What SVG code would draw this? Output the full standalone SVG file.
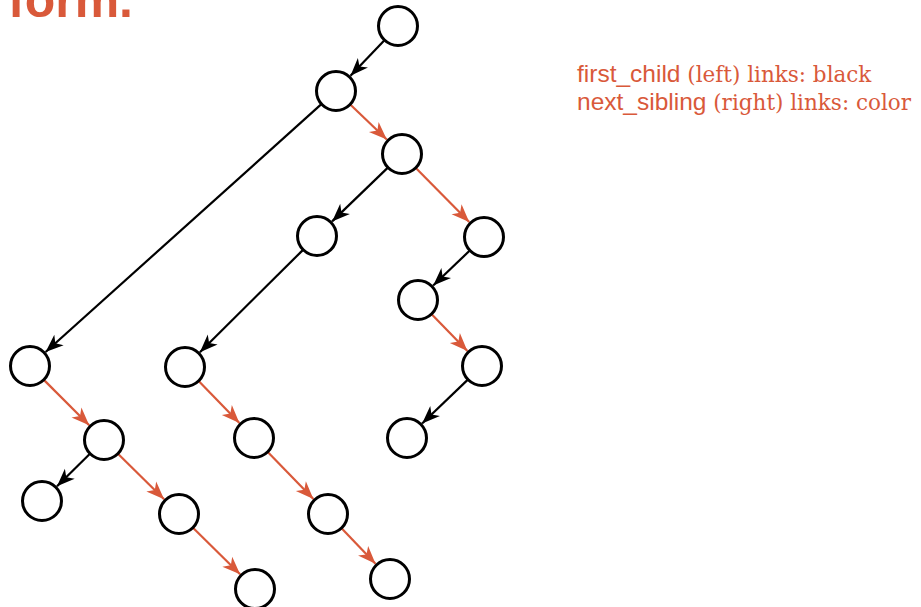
<svg xmlns="http://www.w3.org/2000/svg" width="921" height="607" viewBox="0 0 921 607">
<defs>
<style>
.node{fill:#fff;stroke:#000;stroke-width:3}
.fc{stroke:#000;stroke-width:2.2;fill:none;marker-end:url(#ab)}
.ns{stroke:#d9593a;stroke-width:2.2;fill:none;marker-end:url(#ao)}
.title{font-family:"Liberation Sans",Arial,sans-serif;font-weight:bold;font-size:50px;fill:#d9593a}
.leg{fill:#d9593a}
.sans{font-family:"Liberation Sans",Arial,sans-serif;font-size:24.5px}
.serif{font-family:"DejaVu Serif",serif;font-size:21.5px}
</style>
<marker id="ab" markerUnits="userSpaceOnUse" viewBox="-19 -8 20 16" refX="0" refY="0" markerWidth="20" markerHeight="16" orient="auto">
<path d="M0,0 L-18,-7 L-13,0 L-18,7 Z" fill="#000"/>
</marker>
<marker id="ao" markerUnits="userSpaceOnUse" viewBox="-19 -8 20 16" refX="0" refY="0" markerWidth="20" markerHeight="16" orient="auto">
<path d="M0,0 L-18,-7 L-13,0 L-18,7 Z" fill="#d9593a"/>
</marker>
</defs>
<rect width="921" height="607" fill="#fff"/>
<text class="title" x="8" y="17">form.</text>
<text class="leg" x="577" y="82"><tspan class="sans">first_child</tspan><tspan class="serif"> (left) links: black</tspan></text>
<text class="leg" x="577" y="110"><tspan class="sans">next_sibling</tspan><tspan class="serif"> (right) links: color</tspan></text>
<g id="connectors">
<line class="fc" x1="384.2" y1="40.5" x2="350.5" y2="75.8"/>
<line class="fc" x1="321.1" y1="104.4" x2="45.6" y2="352"/>
<line class="fc" x1="387.6" y1="167.9" x2="332.1" y2="221.4"/>
<line class="fc" x1="302.8" y1="250.1" x2="199.9" y2="352.2"/>
<line class="fc" x1="469.5" y1="250.8" x2="433.2" y2="285.5"/>
<line class="fc" x1="467.6" y1="379.9" x2="422.1" y2="423.5"/>
<line class="fc" x1="89.7" y1="454" x2="57" y2="486.3"/>
<line class="ns" x1="350.5" y1="104.8" x2="386.8" y2="139.5"/>
<line class="ns" x1="416.1" y1="168.2" x2="469.2" y2="222.1"/>
<line class="ns" x1="431.9" y1="314.4" x2="467.4" y2="350.9"/>
<line class="ns" x1="44.1" y1="380.1" x2="89.2" y2="425.2"/>
<line class="ns" x1="118.2" y1="454" x2="164.1" y2="499.2"/>
<line class="ns" x1="193.2" y1="528" x2="240.1" y2="574.3"/>
<line class="ns" x1="198.9" y1="381.3" x2="239.4" y2="422.9"/>
<line class="ns" x1="268" y1="452.3" x2="313.4" y2="499"/>
<line class="ns" x1="341.8" y1="528.5" x2="375.5" y2="563.8"/>
</g>
<g id="nA"><circle class="node" cx="398" cy="26" r="19.5"/></g>
<g id="nB"><circle class="node" cx="336" cy="91" r="19.5"/></g>
<g id="nC"><circle class="node" cx="402" cy="154" r="19.5"/></g>
<g id="nD"><circle class="node" cx="317" cy="236" r="19.5"/></g>
<g id="nE"><circle class="node" cx="484" cy="237" r="19.5"/></g>
<g id="nF"><circle class="node" cx="418" cy="300" r="19.5"/></g>
<g id="nG"><circle class="node" cx="482" cy="366" r="19.5"/></g>
<g id="nH"><circle class="node" cx="30" cy="366" r="19.5"/></g>
<g id="nK"><circle class="node" cx="185" cy="367" r="19.5"/></g>
<g id="nN"><circle class="node" cx="407" cy="438" r="19.5"/></g>
<g id="nI"><circle class="node" cx="104" cy="440" r="19.5"/></g>
<g id="nO"><circle class="node" cx="254" cy="438" r="19.5"/></g>
<g id="nJ"><circle class="node" cx="42" cy="501" r="19.5"/></g>
<g id="nL"><circle class="node" cx="179" cy="514" r="19.5"/></g>
<g id="nP"><circle class="node" cx="328" cy="514" r="19.5"/></g>
<g id="nM"><circle class="node" cx="255" cy="589" r="19.5"/></g>
<g id="nQ"><circle class="node" cx="390" cy="579" r="19.5"/></g>
</svg>
